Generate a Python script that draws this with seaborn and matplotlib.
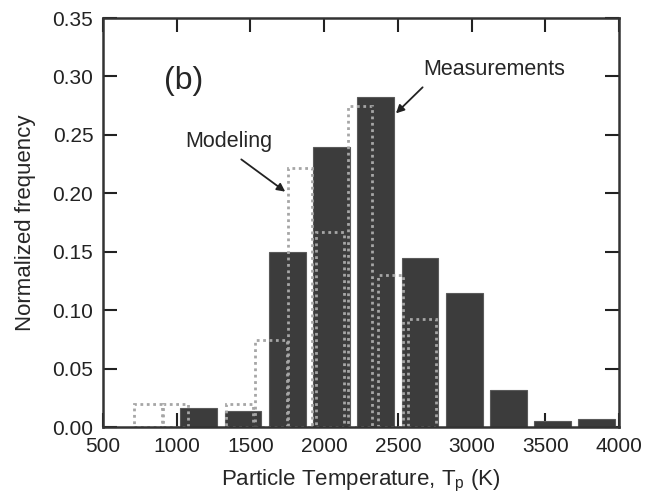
import matplotlib
matplotlib.use("Agg")
import matplotlib.pyplot as plt
import seaborn as sns
import pandas as pd

# ---- data ----
meas_temp = [1150, 1450, 1750, 2050, 2350, 2650, 2950, 3250, 3550, 3850]
meas_freq = [0.0165, 0.0137, 0.150, 0.240, 0.282, 0.145, 0.115, 0.032, 0.005, 0.007]

model_lo = [710, 909, 1332, 1531, 1753, 1945, 2160, 2363, 2571]
model_hi = [900, 1079, 1520, 1746, 1916, 2135, 2323, 2537, 2759]
model_freq = [0.020, 0.020, 0.020, 0.0745, 0.222, 0.167, 0.275, 0.130, 0.092]

x_ticks = [500, 1000, 1500, 2000, 2500, 3000, 3500, 4000]
y_ticks = [0.00, 0.05, 0.10, 0.15, 0.20, 0.25, 0.30, 0.35]

sns.set_style("ticks")
plt.rcParams["font.family"] = ["Liberation Sans", "DejaVu Sans"]

fig = plt.figure(figsize=(6.62, 4.98), dpi=100)
ax = fig.add_axes([103 / 662, 1 - 427 / 498, 516 / 662, 409 / 498])

meas_df = pd.DataFrame({"T": meas_temp, "f": meas_freq})
sns.barplot(data=meas_df, x="T", y="f", native_scale=True, width=250 / 300,
            color="#3c3c3c", saturation=1, edgecolor="#5a5a5a", linewidth=0.8,
            ax=ax, zorder=1)

widths = [h - l for l, h in zip(model_lo, model_hi)]
ax.bar(model_lo, model_freq, width=widths, align="edge", fill=False,
       edgecolor="#a6a6a6", linewidth=2.0, linestyle=(0, (1, 1.3)), zorder=2)

ax.set_xlim(500, 4000)
ax.set_ylim(0, 0.35)
ax.set_xticks(x_ticks)
ax.set_yticks(y_ticks)
ax.set_yticklabels([f"{v:.2f}" for v in y_ticks])
ax.tick_params(direction="in", length=10, width=1.5, labelsize=15, pad=7,
               top=True, right=True, colors="#222222")
for s in ax.spines.values():
    s.set_visible(True)
    s.set_linewidth(1.8)
    s.set_color("#333333")

ax.set_xlabel("Particle Temperature, T$_\\mathregular{p}$ (K)", fontsize=16, labelpad=9)
ax.set_ylabel("Normalized frequency", fontsize=16, labelpad=12)

ax.text(1050, 0.296, "(b)", fontsize=23, ha="center", va="center")
ax.text(3154, 0.3063, "Measurements", fontsize=15.5, ha="center", va="center")
ax.text(1355, 0.244, "Modeling", fontsize=15.5, ha="center", va="center")
arrow = dict(arrowstyle="-|>", color="#222222", lw=1.3, mutation_scale=12, shrinkA=0, shrinkB=0)
ax.annotate("", xy=(2487, 0.2684), xytext=(2668, 0.2907), arrowprops=arrow)
ax.annotate("", xy=(1736, 0.2014), xytext=(1438, 0.229), arrowprops=arrow)

fig.savefig("out.png", dpi=100)
